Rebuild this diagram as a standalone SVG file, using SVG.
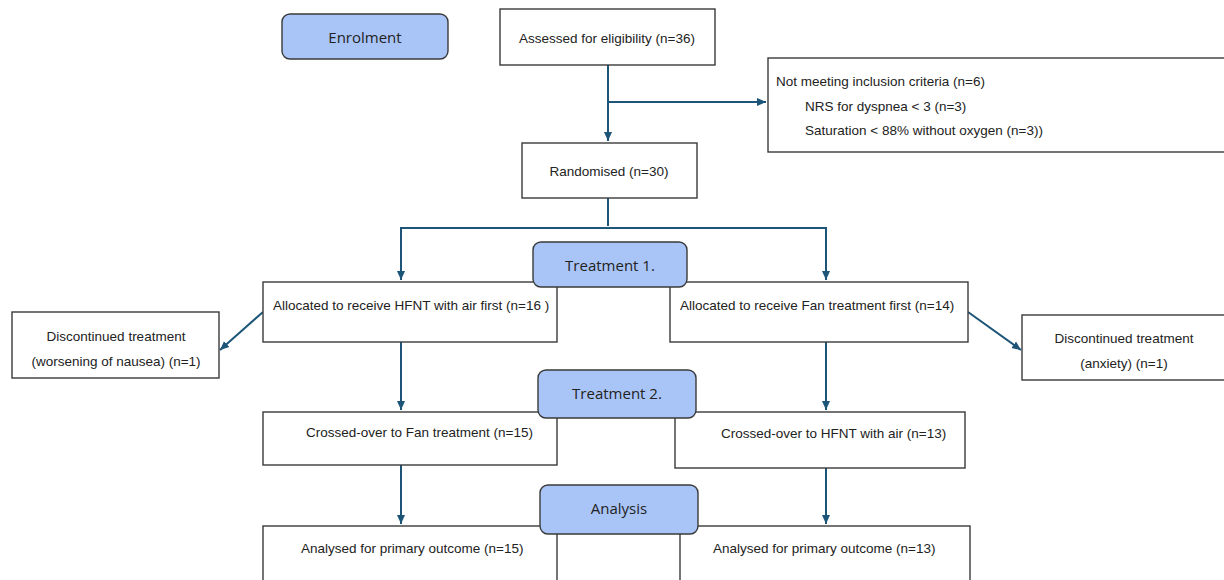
<svg xmlns="http://www.w3.org/2000/svg" width="1224" height="580" viewBox="0 0 1224 580">
<defs>
<marker id="ah" markerWidth="10" markerHeight="10" refX="9" refY="5" orient="auto" markerUnits="userSpaceOnUse">
<path d="M0,1 L9,5 L0,9 z" fill="#1d5578"/>
</marker>
<style>
.box{fill:#fff;stroke:#3a3a3a;stroke-width:1.4}
.phase{fill:#a9c5f7;stroke:#3a3a3a;stroke-width:1.4}
.t{font-family:"Liberation Sans",Arial,sans-serif;font-size:13.5px;fill:#222}
.p{font-family:"Open Sans","Liberation Sans",sans-serif;font-size:15px;fill:#222}
.c{fill:none;stroke:#1d5578;stroke-width:2}
</style>
</defs>
<rect width="1224" height="580" fill="#fff"/>
<g id="connectors">
<path class="c" d="M608,65 V141" marker-end="url(#ah)"/>
<path class="c" d="M608,102 H766" marker-end="url(#ah)"/>
<path class="c" d="M608,198 V226"/>
<path class="c" d="M401,228 H826"/>
<path class="c" d="M401,227 V280" marker-end="url(#ah)"/>
<path class="c" d="M826,227 V280" marker-end="url(#ah)"/>
<path class="c" d="M263,312 L220,350" marker-end="url(#ah)"/>
<path class="c" d="M968,312 L1021,350" marker-end="url(#ah)"/>
<path class="c" d="M401,342 V410" marker-end="url(#ah)"/>
<path class="c" d="M826,342 V410" marker-end="url(#ah)"/>
<path class="c" d="M401,465 V524" marker-end="url(#ah)"/>
<path class="c" d="M826,468 V524" marker-end="url(#ah)"/>
</g>
<g id="enrolment"><rect class="phase" x="282" y="14" width="166" height="45" rx="8"/><text class="p" x="365" y="43" text-anchor="middle">Enrolment</text></g>
<g id="assessed"><rect class="box" x="500" y="9" width="215" height="56"/><text class="t" x="607" y="43" text-anchor="middle">Assessed for eligibility (n=36)</text></g>
<g id="excluded"><rect class="box" x="768" y="58" width="460" height="94"/>
<text class="t" x="776" y="86">Not meeting inclusion criteria (n=6)</text>
<text class="t" x="805" y="111">NRS for dyspnea &lt; 3 (n=3)</text>
<text class="t" x="805" y="135">Saturation &lt; 88% without oxygen (n=3))</text></g>
<g id="randomised"><rect class="box" x="522" y="143" width="175" height="55"/><text class="t" x="609" y="176" text-anchor="middle">Randomised (n=30)</text></g>
<g id="hfnt-first"><rect class="box" x="263" y="282" width="294" height="60"/><text class="t" x="273" y="310">Allocated to receive HFNT with air first (n=16 )</text></g>
<g id="fan-first"><rect class="box" x="670" y="282" width="298" height="60"/><text class="t" x="680" y="310">Allocated to receive Fan treatment first (n=14)</text></g>
<g id="treatment1"><rect class="phase" x="533" y="242" width="154" height="45" rx="8"/><text class="p" x="610" y="271" text-anchor="middle">Treatment 1.</text></g>
<g id="disc-left"><rect class="box" x="12" y="312" width="207" height="66"/><text class="t" x="116" y="341" text-anchor="middle">Discontinued treatment</text><text class="t" x="116" y="366" text-anchor="middle">(worsening of nausea) (n=1)</text></g>
<g id="disc-right"><rect class="box" x="1022" y="315" width="206" height="65"/><text class="t" x="1124" y="343" text-anchor="middle">Discontinued treatment</text><text class="t" x="1124" y="368" text-anchor="middle">(anxiety) (n=1)</text></g>
<g id="cross-left"><rect class="box" x="263" y="412" width="294" height="53"/><text class="t" x="306" y="437">Crossed-over to Fan treatment (n=15)</text></g>
<g id="cross-right"><rect class="box" x="675" y="412" width="290" height="56"/><text class="t" x="721" y="438">Crossed-over to HFNT with air (n=13)</text></g>
<g id="treatment2"><rect class="phase" x="538" y="370" width="158" height="48" rx="8"/><text class="p" x="617" y="399" text-anchor="middle">Treatment 2.</text></g>
<g id="analysed-left"><rect class="box" x="263" y="526" width="294" height="60"/><text class="t" x="301" y="553">Analysed for primary outcome (n=15)</text></g>
<g id="analysed-right"><rect class="box" x="680" y="526" width="290" height="60"/><text class="t" x="713" y="553">Analysed for primary outcome (n=13)</text></g>
<g id="analysis"><rect class="phase" x="540" y="485" width="158" height="49" rx="8"/><text class="p" x="619" y="514" text-anchor="middle">Analysis</text></g>
</svg>
